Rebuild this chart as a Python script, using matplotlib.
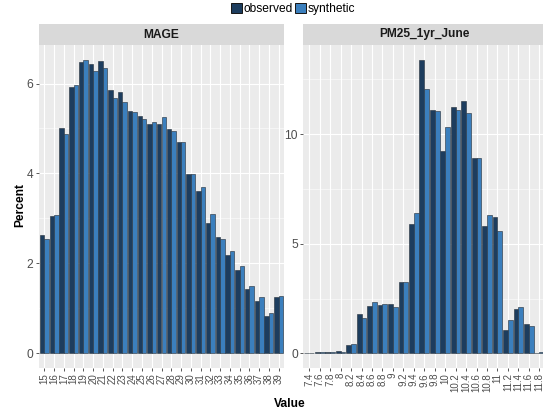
import numpy as np
import matplotlib
matplotlib.use('Agg')
import matplotlib.pyplot as plt
from matplotlib.patches import Patch

plt.rcParams['font.family'] = ['Liberation Sans', 'DejaVu Sans']

# MAGE
mage_labels = [str(v) for v in range(15, 40)]
mage_obs = [2.64, 3.05, 5.01, 5.93, 6.47, 6.44, 6.50, 5.85, 5.82, 5.38, 5.27, 5.11, 5.09,
            4.99, 4.71, 3.98, 3.61, 2.89, 2.59, 2.19, 1.85, 1.43, 1.16, 0.82, 1.25]
mage_syn = [2.54, 3.08, 4.88, 5.96, 6.53, 6.27, 6.35, 5.68, 5.59, 5.37, 5.22, 5.14, 5.25,
            4.94, 4.71, 3.98, 3.70, 3.09, 2.55, 2.28, 1.94, 1.49, 1.26, 0.89, 1.27]

# PM25_1yr_June
pm_labels = ['7.4', '7.6', '7.8', '8', '8.2', '8.4', '8.6', '8.8', '9', '9.2', '9.4', '9.6',
             '9.8', '10', '10.2', '10.4', '10.6', '10.8', '11', '11.2', '11.4', '11.6', '11.8']
pm_obs = [0.03, 0.04, 0.05, 0.09, 0.38, 1.81, 2.14, 2.20, 2.27, 3.25, 5.89, 13.4,
          11.10, 9.23, 11.24, 11.50, 8.91, 5.83, 6.24, 1.06, 2.01, 1.36, 0.02]
pm_syn = [0.03, 0.04, 0.04, 0.08, 0.44, 1.60, 2.36, 2.27, 2.13, 3.25, 6.40, 12.08,
          11.04, 10.32, 11.12, 10.98, 8.91, 6.30, 5.57, 1.53, 2.11, 1.24, 0.05]

c_obs = '#1d3d5e'
c_syn = '#3b7fbd'
W, H = 543, 415

fig = plt.figure(figsize=(W / 72, H / 72), dpi=72)


def panel(x0, x1, title, labels, obs, syn, yticks, yminor, ymax):
    ax = fig.add_axes([x0 / W, (H - 368) / H, (x1 - x0) / W, (368 - 45) / H])
    ax.set_facecolor('#EBEBEB')
    pos = np.arange(len(labels))
    bw = 0.46
    ax.bar(pos - bw / 2, obs, bw, color=c_obs, edgecolor='#2a3540', linewidth=0.6, zorder=3)
    ax.bar(pos + bw / 2, syn, bw, color=c_syn, edgecolor='#2a3540', linewidth=0.6, zorder=3)
    ax.set_xlim(-0.6, len(labels) - 0.4)
    ax.set_ylim(-0.05 * ymax, 1.05 * ymax)
    ax.set_xticks(pos)
    ax.set_xticklabels(labels, rotation=90, fontsize=9.8, color='#4D4D4D')
    ax.set_yticks(yticks)
    ax.set_yticklabels([str(t) for t in yticks], fontsize=12, color='#4D4D4D')
    ax.set_yticks(yminor, minor=True)
    ax.grid(True, which='major', color='white', linewidth=1.1, zorder=0)
    ax.grid(True, which='minor', axis='y', color='white', linewidth=0.5, zorder=0)
    ax.tick_params(which='major', length=3, color='#333333', pad=2)
    ax.tick_params(which='minor', length=0)
    ax.set_axisbelow(True)
    for s in ax.spines.values():
        s.set_visible(False)
    st = fig.add_axes([x0 / W, (H - 45) / H, (x1 - x0) / W, 21 / H])
    st.set_facecolor('#D9D9D9')
    st.set_xticks([])
    st.set_yticks([])
    for s in st.spines.values():
        s.set_visible(False)
    st.text(0.5, 0.5, title, ha='center', va='center', fontsize=12, fontweight='bold',
            color='#1A1A1A', transform=st.transAxes)
    return ax


panel(38.6, 284.4, 'MAGE', mage_labels, mage_obs, mage_syn, [0, 2, 4, 6], [1, 3, 5], 6.53)
panel(303, 545.5, 'PM25_1yr_June', pm_labels, pm_obs, pm_syn, [0, 5, 10], [2.5, 7.5, 12.5], 13.4)

fig.text(20 / W, 1 - 205 / H, 'Percent', rotation=90, ha='center', va='center',
         fontsize=12, fontweight='bold')
fig.text(290 / W, 1 - 404 / H, 'Value', ha='center', va='center', fontsize=12, fontweight='bold')

handles = [Patch(facecolor=c_obs, edgecolor='#1a1a1a', label='observed'),
           Patch(facecolor=c_syn, edgecolor='#1a1a1a', label='synthetic')]
fig.legend(handles=handles, loc='center', bbox_to_anchor=(293 / W, 1 - 9 / H), ncol=2,
           frameon=False, fontsize=12, handlelength=0.9, handleheight=0.9,
           handletextpad=0.15, columnspacing=0.2, borderpad=0)

fig.savefig('out.png', dpi=72)
